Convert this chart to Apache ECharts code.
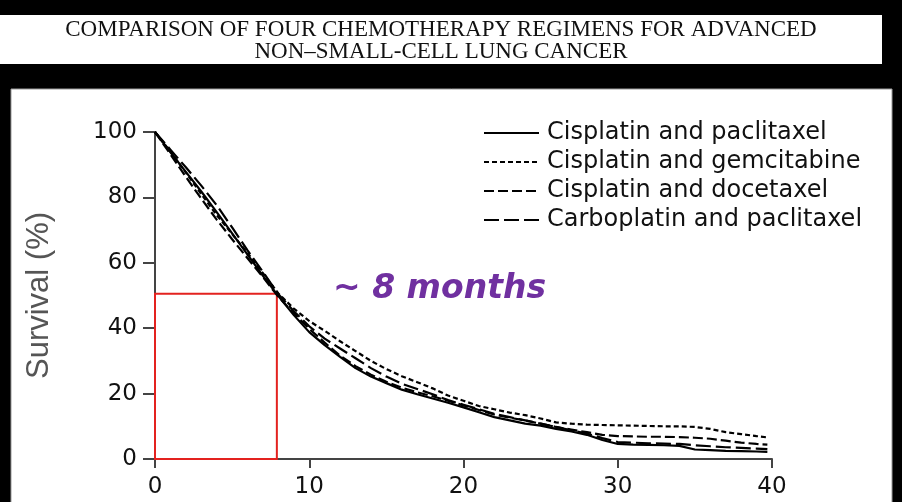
<!DOCTYPE html>
<html>
<head>
<meta charset="utf-8">
<script src="https://cdn.jsdelivr.net/npm/echarts@6/dist/echarts.min.js"></script>
<style>
html,body{margin:0;padding:0;background:#000;}
#chart{width:902px;height:502px;}
</style>
</head>
<body>
<div id="chart"></div>
<script>
// ---- data ----
var TITLE_LINES = ['COMPARISON OF FOUR CHEMOTHERAPY REGIMENS FOR ADVANCED', 'NON\u2013SMALL-CELL LUNG CANCER'];
var SERIES_NAMES = ['Cisplatin and paclitaxel', 'Cisplatin and gemcitabine', 'Cisplatin and docetaxel', 'Carboplatin and paclitaxel'];
var MONTHS = [0,1,2,3,4,5,6,7,8,9,10,11,12,13,14,15,16,17,18,19,20,21,22,23,24,25,26,27,28,29,30,31,32,33,34,35,36,37,38,39,39.7];
var CIS_PAC = [100,93.8,87.8,81.8,75.5,69,62.5,56,49.8,44,38.8,34.8,31.2,27.8,25.2,23.2,21.2,19.8,18.5,17.2,15.8,14.3,12.8,11.8,10.8,10.2,9.2,8.4,7.4,5.8,4.6,4.4,4.3,4.2,4.0,2.9,2.7,2.5,2.4,2.3,2.2];
var CIS_GEM = [100,94,87.6,81,74.6,68.8,63,56.8,50.6,46,42.2,39.2,36,33,30,27.5,25.3,23.5,21.6,19.4,17.8,16.2,15.2,14.2,13.4,12.4,11.2,10.8,10.5,10.4,10.3,10.2,10.1,10,10,9.8,9.2,8.2,7.6,7.0,6.6];
var CIS_DOC = [100,93.2,86.3,79.6,73.2,67.2,61.4,55.6,49.6,44.6,39.8,35.6,31.6,28.4,25.8,23.6,21.8,20.4,19.2,17.8,16.4,15,13.6,12.6,11.8,10.8,9.8,9,8.2,7.4,7,6.9,6.8,6.8,6.7,6.5,6.2,5.6,5,4.6,4.4];
var CARBO_PAC = [100,94.6,89.2,83.6,77.6,70.8,63.8,57.2,50.4,45.2,40.6,36.8,33.8,30.8,27.8,25.2,23,21.4,19.8,18,16.6,15.2,13.8,12.8,11.8,10.8,9.8,8.8,7.8,6.4,5.2,5,4.8,4.7,4.6,4.2,3.9,3.6,3.4,3.2,3.0];
var X_TICKS = [0,10,20,30,40];
var Y_TICKS = [0,20,40,60,80,100];
var MEDIAN_MONTHS = 7.9;
var MEDIAN_SURVIVAL = 50.5;
var ANNOTATION = '~ 8 months';
var Y_NAME = 'Survival (%)';

function pairs(ys){ return MONTHS.map(function(m,i){ return [m, ys[i]]; }); }

var DASHES = ['solid', [5,3], [10,4], [15,5]];
var VALUES = [CIS_PAC, CIS_GEM, CIS_DOC, CARBO_PAC];

var series = SERIES_NAMES.map(function(name, i){
  return {
    name: name,
    type: 'line',
    data: pairs(VALUES[i]),
    symbol: 'none',
    smooth: false,
    lineStyle: {color: '#000', width: 2.2, type: DASHES[i]},
    itemStyle: {color: '#000'},
    z: 3
  };
});
series.push({
  name: 'median',
  type: 'line',
  data: [],
  symbol: 'none',
  z: 4,
  markArea: {
    silent: true,
    itemStyle: {color: 'rgba(0,0,0,0)', borderColor: '#e3221f', borderWidth: 2},
    data: [[{coord: [0, 0]}, {coord: [MEDIAN_MONTHS, MEDIAN_SURVIVAL]}]]
  }
});

var chart = echarts.init(document.getElementById('chart'));
chart.setOption({
  backgroundColor: '#000',
  animation: false,
  graphic: [
    {type: 'rect', z: -10, silent: true, shape: {x: 0, y: 15, width: 882, height: 49}, style: {fill: '#fff'}},
    {type: 'rect', z: -10, silent: true, shape: {x: 11, y: 89, width: 881, height: 420}, style: {fill: '#fff', stroke: '#999', lineWidth: 1}}
  ],
  title: [
    {
      text: TITLE_LINES.join('\n'),
      left: 441, top: 19, textAlign: 'center', padding: 0,
      textStyle: {fontFamily: 'Liberation Serif', fontSize: 23, fontWeight: 'normal', color: '#111', lineHeight: 22}
    },
    {
      text: ANNOTATION,
      left: 333, top: 273, padding: 0,
      textStyle: {fontFamily: 'DejaVu Sans', fontSize: 33, fontWeight: 'bold', fontStyle: 'italic', color: '#7030a0'}
    }
  ],
  legend: {
    data: SERIES_NAMES,
    orient: 'vertical',
    left: 483, top: 121, padding: 0,
    itemWidth: 55, itemHeight: 14, itemGap: 5,
    itemStyle: {opacity: 0},
    textStyle: {fontFamily: 'DejaVu Sans', fontSize: 24, color: '#111', lineHeight: 22, padding: [0,0,0,3]}
  },
  grid: {left: 155, right: 130, top: 132, bottom: 43},
  xAxis: {
    type: 'value', min: X_TICKS[0], max: X_TICKS[X_TICKS.length-1], interval: 10,
    axisLine: {lineStyle: {color: '#444', width: 2}},
    axisTick: {show: true, length: 9, lineStyle: {color: '#444', width: 2}},
    axisLabel: {margin: 17, fontFamily: 'DejaVu Sans', fontSize: 23, color: '#111'},
    splitLine: {show: false}
  },
  yAxis: {
    type: 'value', min: Y_TICKS[0], max: Y_TICKS[Y_TICKS.length-1], interval: 20,
    name: Y_NAME, nameLocation: 'middle', nameRotate: 90, nameGap: 100,
    nameTextStyle: {fontFamily: 'Liberation Sans', fontSize: 31, color: '#555'},
    axisLine: {show: true, lineStyle: {color: '#444', width: 2}},
    axisTick: {show: true, length: 12, lineStyle: {color: '#444', width: 2}},
    axisLabel: {margin: 18, fontFamily: 'DejaVu Sans', fontSize: 23, color: '#111'},
    splitLine: {show: false}
  },
  series: series
});
</script>
</body>
</html>
